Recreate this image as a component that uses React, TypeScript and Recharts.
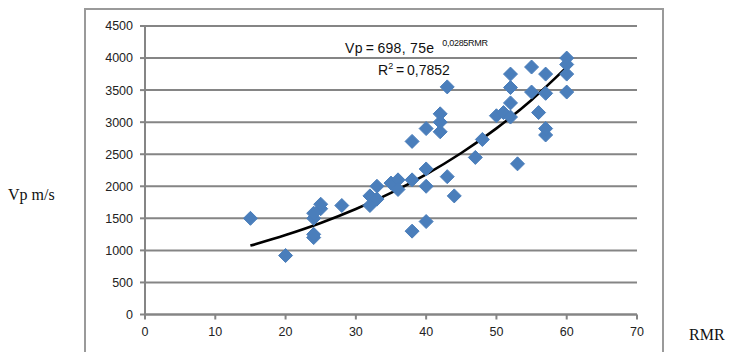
import React from "react";
import {
  ComposedChart,
  Scatter,
  Line,
  XAxis,
  YAxis,
  CartesianGrid,
} from "recharts";

// measured points (RMR, Vp m/s)
const rmr = [
  15, 20, 24, 24, 24, 24, 25, 25, 28, 32, 32, 33, 33, 35, 36, 36, 38, 38, 38, 40,
  40, 40, 40, 42, 42, 42, 43, 43, 44, 47, 48, 50, 51, 52, 52, 52, 52, 53, 55, 55,
  56, 57, 57, 57, 57, 60, 60, 60, 60,
];
const vp = [
  1500, 920, 1200, 1250, 1500, 1580, 1650, 1720, 1700, 1700, 1850, 1800, 2000, 2050, 2100, 1950, 1300, 2100, 2700, 1450,
  2000, 2270, 2900, 2850, 3000, 3130, 3550, 2150, 1850, 2450, 2730, 3100, 3150, 3080, 3300, 3540, 3750, 2350, 3470, 3860,
  3150, 2800, 2900, 3450, 3750, 3470, 3750, 3900, 4000,
];

// exponential trend line
const trendX = [15, 20, 25, 30, 35, 40, 45, 50, 55, 60];
const trendY = [1074, 1239, 1427, 1645, 1896, 2186, 2519, 2903, 3347, 3858];

const xTicks = [0, 10, 20, 30, 40, 50, 60, 70];
const yTicks = [0, 500, 1000, 1500, 2000, 2500, 3000, 3500, 4000, 4500];

const points = rmr.map((x, i) => ({ x, y: vp[i] }));
const trend = trendX.map((x, i) => ({ x, y: trendY[i] }));

const Diamond = (props: any) => {
  const { cx, cy } = props;
  const r = 7;
  return (
    <polygon
      points={`${cx},${cy - r} ${cx + r},${cy} ${cx},${cy + r} ${cx - r},${cy}`}
      fill="#4a7ebb"
      stroke="#4a7ebb"
      strokeWidth={1}
      strokeLinejoin="round"
    />
  );
};

const tickStyle = { fill: "#222", fontSize: 12.5, fontFamily: "Liberation Sans, Arial, sans-serif" };

export default function App() {
  return (
    <div
      style={{
        position: "absolute",
        left: 0,
        top: 0,
        width: 732,
        height: 352,
        overflow: "hidden",
        background: "#fff",
      }}
    >
      <div
        style={{
          position: "absolute",
          left: 84,
          top: 8,
          width: 576,
          height: 400,
          border: "2px solid #9a9a9a",
        }}
      />
      <div style={{ position: "absolute", left: 0, top: 0 }}>
        <ComposedChart
          width={732}
          height={352}
          margin={{ top: 26, right: 95, bottom: 7.5, left: 85 }}
        >
          <CartesianGrid vertical={false} stroke="#858585" strokeWidth={2} />
          <XAxis
            type="number"
            dataKey="x"
            domain={[0, 70]}
            ticks={xTicks}
            height={30}
            tick={tickStyle}
            tickSize={5}
            tickMargin={8}
            axisLine={{ stroke: "#858585", strokeWidth: 2 }}
            tickLine={{ stroke: "#858585", strokeWidth: 2 }}
          />
          <YAxis
            type="number"
            dataKey="y"
            domain={[0, 4500]}
            ticks={yTicks}
            width={60}
            tick={tickStyle}
            tickSize={5}
            tickMargin={7}
            axisLine={{ stroke: "#858585", strokeWidth: 2 }}
            tickLine={{ stroke: "#858585", strokeWidth: 2 }}
          />
          <Scatter data={points} shape={Diamond} isAnimationActive={false} />
          <Line
            data={trend}
            dataKey="y"
            type="monotone"
            stroke="#000"
            strokeWidth={2.6}
            dot={false}
            isAnimationActive={false}
          />
        </ComposedChart>
      </div>
      <div
        style={{
          position: "absolute",
          left: 8,
          top: 186,
          fontFamily: "Liberation Serif, Times New Roman, serif",
          fontSize: 16,
          color: "#111",
        }}
      >
        Vp m/s
      </div>
      <div
        style={{
          position: "absolute",
          left: 689,
          top: 326,
          fontFamily: "Liberation Serif, Times New Roman, serif",
          fontSize: 16,
          color: "#111",
        }}
      >
        RMR
      </div>
      <div
        style={{
          position: "absolute",
          left: 345,
          top: 40,
          fontFamily: "Liberation Sans, Arial, sans-serif",
          fontSize: 14,
          letterSpacing: 0.3,
          color: "#111",
          whiteSpace: "nowrap",
        }}
      >
        Vp{"\u2009"}={"\u2009"}698, 75e
        <span style={{ fontSize: 9, letterSpacing: -0.3, position: "relative", top: -7, left: 8 }}>0,0285RMR</span>
      </div>
      <div
        style={{
          position: "absolute",
          left: 378,
          top: 61,
          fontFamily: "Liberation Sans, Arial, sans-serif",
          fontSize: 14,
          color: "#111",
          whiteSpace: "nowrap",
        }}
      >
        R<sup style={{ fontSize: 9 }}>2</sup>{"\u2009"}={"\u2009"}0,7852
      </div>
    </div>
  );
}
